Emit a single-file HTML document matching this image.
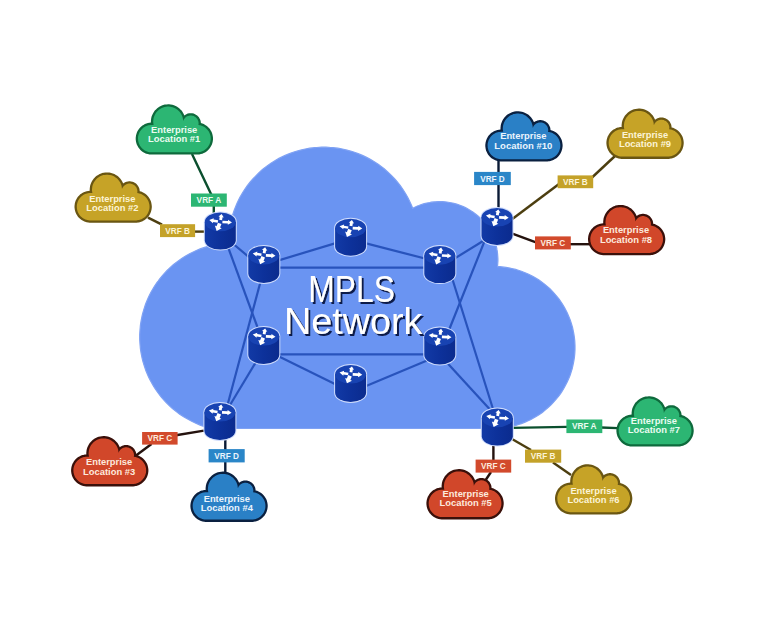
<!DOCTYPE html>
<html lang="en"><head><meta charset="utf-8"><title>MPLS Network</title>
<style>
html,body{margin:0;padding:0;background:#fff}
body{width:768px;height:630px;overflow:hidden}
svg{display:block}
text{font-family:"Liberation Sans",sans-serif}
.cl{font-weight:bold;font-size:9.3px;text-anchor:middle}
.vl{font-weight:bold;font-size:8.4px;text-anchor:middle}
.big{font-size:36.5px;fill:#fff;text-anchor:middle}
</style></head><body>
<svg width="768" height="630" viewBox="0 0 768 630">
<defs>
<linearGradient id="gb" x1="0" x2="1" y1="0" y2="0"><stop offset="0" stop-color="#123aa6"/><stop offset="0.5" stop-color="#0d319a"/><stop offset="1" stop-color="#0b2b8e"/></linearGradient>
<filter id="ds" x="-5%" y="-10%" width="112%" height="130%"><feGaussianBlur in="SourceAlpha" stdDeviation="0.6"/><feOffset dx="1.6" dy="1.5" result="o"/><feFlood flood-color="#0c1a4a"/><feComposite in2="o" operator="in"/><feMerge><feMergeNode/><feMergeNode in="SourceGraphic"/></feMerge></filter>
<filter id="soft" x="-5%" y="-5%" width="110%" height="110%"><feGaussianBlur stdDeviation="0.5"/></filter>

<path id="sco" d="M48.1,10.1 L47.3,8.6 L46.4,7.2 L45.9,6.5 L44.7,5.3 L43.5,4.1 L42.8,3.6 L41.4,2.7 L39.9,1.9 L38.3,1.2 L36.7,0.7 L35.0,0.4 L33.3,0.2 L32.5,0.2 L30.8,0.3 L29.1,0.5 L27.5,0.9 L26.7,1.2 L25.1,1.9 L23.6,2.7 L22.2,3.6 L21.5,4.1 L20.3,5.3 L19.1,6.5 L18.6,7.2 L17.7,8.6 L16.9,10.1 L16.2,11.7 L15.9,12.5 L15.5,14.1 L15.4,15.0 L15.2,16.7 L15.2,18.5 L13.7,18.7 L12.1,19.0 L11.4,19.2 L9.9,19.7 L9.2,20.0 L7.8,20.8 L7.1,21.2 L5.8,22.1 L5.3,22.6 L4.7,23.2 L3.6,24.3 L2.7,25.6 L1.9,27.0 L1.5,27.7 L1.2,28.4 L0.7,29.9 L0.3,31.4 L0.2,32.2 L0.0,33.7 L0.0,35.3 L0.1,36.1 L0.3,37.6 L0.5,38.4 L0.9,39.9 L1.2,40.6 L1.9,42.0 L2.7,43.4 L3.1,44.0 L4.1,45.2 L4.7,45.8 L5.8,46.9 L7.1,47.8 L8.5,48.6 L9.9,49.3 L10.6,49.6 L12.1,50.0 L13.7,50.3 L15.2,50.5 L62.1,50.5 L63.6,50.3 L64.4,50.2 L65.2,50.0 L66.7,49.6 L68.1,49.0 L68.8,48.6 L70.2,47.8 L70.8,47.4 L72.0,46.4 L73.2,45.2 L74.2,44.0 L75.0,42.7 L75.4,42.0 L76.1,40.6 L76.6,39.1 L77.0,37.6 L77.1,36.8 L77.3,35.3 L77.3,33.7 L77.1,32.2 L76.8,30.6 L76.4,29.1 L75.8,27.7 L75.0,26.3 L74.2,25.0 L73.2,23.8 L72.0,22.6 L70.8,21.6 L69.5,20.8 L68.1,20.0 L66.7,19.4 L65.2,19.0 L65.1,17.8 L64.8,16.3 L64.4,15.4 L63.7,14.1 L63.2,13.2 L62.2,12.1 L61.5,11.4 L60.2,10.6 L58.9,9.9 L58.0,9.5 L56.5,9.2 L55.5,9.1 L54.5,9.1 L53.5,9.2 L52.0,9.5 L51.1,9.9 L50.2,10.3 L49.3,10.8 L48.7,11.3Z"/>
<path id="sci" d="M47.4,16.0 L47.2,14.6 L47.1,13.9 L46.6,12.4 L46.1,11.1 L45.7,10.4 L45.0,9.2 L44.5,8.6 L44.1,8.0 L43.1,6.9 L42.0,5.9 L41.4,5.5 L40.2,4.6 L38.9,3.9 L38.2,3.6 L36.9,3.1 L35.4,2.8 L34.7,2.7 L33.2,2.5 L31.8,2.5 L30.3,2.7 L28.9,2.9 L28.1,3.1 L27.4,3.4 L26.1,3.9 L24.8,4.6 L24.2,5.0 L23.0,5.9 L21.9,6.9 L20.9,8.0 L20.0,9.2 L19.6,9.8 L19.3,10.4 L18.6,11.8 L18.4,12.4 L17.9,13.9 L17.7,15.3 L17.6,16.0 L17.5,17.5 L17.5,18.2 L17.7,19.7 L17.9,20.8 L15.3,20.8 L14.7,20.9 L13.3,21.1 L12.7,21.2 L11.4,21.6 L10.1,22.1 L9.5,22.4 L8.4,23.1 L7.8,23.5 L6.8,24.3 L6.3,24.8 L5.4,25.8 L5.0,26.3 L4.6,26.9 L3.9,28.0 L3.3,29.3 L3.1,29.9 L2.7,31.2 L2.4,32.5 L2.3,33.8 L2.3,34.5 L2.4,35.8 L2.4,36.5 L2.6,37.2 L2.9,38.5 L3.3,39.7 L3.9,41.0 L4.2,41.5 L5.0,42.7 L5.8,43.7 L6.3,44.2 L7.3,45.1 L7.8,45.5 L9.0,46.3 L9.5,46.6 L10.8,47.2 L12.0,47.6 L12.7,47.8 L14.0,48.1 L15.3,48.2 L62.0,48.2 L62.6,48.1 L64.0,47.9 L64.6,47.8 L65.9,47.4 L66.5,47.2 L67.8,46.6 L68.9,45.9 L69.5,45.5 L70.5,44.7 L71.5,43.7 L72.3,42.7 L73.1,41.5 L73.7,40.4 L74.2,39.1 L74.6,37.8 L74.9,36.5 L75.0,35.2 L75.0,33.8 L74.9,32.5 L74.6,31.2 L74.2,29.9 L73.7,28.6 L73.1,27.5 L72.3,26.3 L71.5,25.3 L70.5,24.3 L69.5,23.5 L68.3,22.7 L67.2,22.1 L65.9,21.6 L64.6,21.2 L64.0,21.1 L62.7,20.9 L62.9,19.7 L62.9,18.9 L62.8,18.1 L62.6,17.0 L62.3,16.3 L62.0,15.6 L61.6,14.9 L61.1,14.3 L60.3,13.4 L59.4,12.7 L58.7,12.3 L58.0,12.0 L57.3,11.7 L56.5,11.6 L55.8,11.4 L55.0,11.4 L54.2,11.4 L53.5,11.6 L52.3,11.9 L51.6,12.2 L50.9,12.5 L50.0,13.2 L49.4,13.7 L48.9,14.3 L48.2,15.2 L47.9,15.9 L47.5,16.9Z"/>

<g id="rt">
 <path d="M-16.5,0 A16.5,10.3 0 0 1 16.5,0 V18.4 A16.5,10.3 0 0 1 -16.5,18.4 Z" fill="#cfdcfc"/>
 <path d="M-15.5,0 V18.4 A15.5,9.3 0 0 0 15.5,18.4 V0 Z" fill="url(#gb)"/>
 <ellipse cx="0" cy="0" rx="15.5" ry="9.3" fill="#1843b2"/>
 <g fill="#fff">
  <polygon points="-2.16,-1.62 -6.70,-2.37 -6.50,-3.61 -11.05,-1.82 -7.31,1.33 -7.11,0.09 -2.57,0.84"/>
  <polygon points="2.04,1.44 7.53,1.68 7.48,2.93 11.69,0.51 7.71,-2.27 7.65,-1.02 2.16,-1.26"/>
  <polygon points="1.76,-1.73 2.25,-4.69 3.49,-4.49 1.32,-7.89 -1.84,-5.38 -0.61,-5.17 -1.10,-2.21"/>
  <polygon points="-2.36,0.77 -3.79,4.29 -5.45,3.62 -3.64,8.99 1.41,6.39 -0.26,5.72 1.16,2.20"/>
 </g>
</g>
</defs>
<rect width="768" height="630" fill="#fff"/>
<path d="M410.8,203.8 L408.8,199.6 L407.8,197.5 L405.5,193.5 L403.0,189.5 L400.3,185.7 L398.9,183.8 L395.9,180.2 L394.3,178.5 L391.1,175.1 L387.7,171.9 L384.2,168.8 L380.5,165.9 L378.6,164.6 L374.7,162.0 L370.7,159.6 L366.6,157.4 L362.4,155.4 L358.1,153.6 L353.7,152.0 L351.4,151.3 L346.9,150.1 L342.4,149.0 L337.8,148.2 L333.1,147.7 L330.8,147.5 L326.1,147.2 L321.5,147.2 L316.8,147.5 L314.5,147.7 L309.8,148.2 L305.2,149.0 L300.7,150.1 L296.2,151.3 L293.9,152.0 L289.5,153.6 L285.2,155.4 L283.1,156.3 L278.9,158.4 L274.9,160.7 L270.9,163.2 L267.1,165.9 L263.4,168.8 L261.6,170.3 L258.2,173.5 L254.9,176.8 L253.3,178.5 L250.2,182.0 L247.3,185.7 L244.6,189.5 L242.1,193.5 L239.8,197.5 L238.8,199.6 L236.8,203.8 L235.0,208.1 L234.2,210.3 L232.7,214.8 L232.0,217.0 L230.9,221.5 L230.0,226.1 L229.3,230.7 L229.1,233.1 L228.7,237.7 L228.6,240.1 L228.6,242.8 L224.8,243.1 L222.5,243.3 L220.2,243.6 L215.7,244.4 L213.4,244.9 L208.9,246.0 L204.5,247.4 L200.1,248.9 L198.0,249.8 L195.8,250.7 L191.7,252.7 L189.6,253.7 L185.6,256.0 L181.7,258.5 L177.9,261.2 L174.2,264.0 L172.4,265.5 L169.0,268.6 L167.3,270.2 L165.7,271.9 L162.6,275.3 L159.7,278.9 L158.3,280.8 L156.9,282.6 L154.3,286.5 L153.1,288.5 L150.8,292.5 L148.8,296.6 L147.8,298.7 L146.0,303.0 L145.2,305.2 L143.8,309.6 L142.5,314.1 L142.0,316.3 L141.1,320.9 L140.4,325.4 L140.2,327.7 L140.0,330.1 L139.7,334.7 L139.7,339.3 L140.0,343.9 L140.2,346.3 L140.4,348.6 L141.1,353.1 L142.0,357.7 L142.5,359.9 L143.1,362.2 L144.5,366.6 L146.0,371.0 L147.8,375.3 L148.8,377.4 L149.8,379.4 L152.0,383.5 L153.1,385.5 L155.6,389.4 L158.3,393.2 L161.1,396.9 L162.6,398.7 L165.7,402.1 L169.0,405.4 L172.4,408.5 L176.0,411.4 L179.7,414.2 L181.7,415.5 L183.6,416.8 L187.6,419.1 L191.7,421.3 L195.8,423.3 L200.1,425.1 L202.3,425.9 L206.7,427.3 L210.9,428.5 L494.0,428.5 L494.0,428.3 L498.1,428.2 L502.0,427.9 L506.0,427.4 L507.9,427.1 L511.8,426.3 L513.8,425.9 L515.7,425.4 L519.5,424.2 L521.4,423.6 L525.1,422.1 L528.7,420.5 L530.5,419.7 L532.2,418.7 L535.7,416.8 L539.0,414.7 L542.3,412.4 L545.4,409.9 L548.4,407.3 L551.3,404.6 L554.0,401.7 L556.6,398.7 L559.1,395.6 L561.4,392.3 L563.5,389.0 L565.4,385.5 L567.2,382.0 L568.8,378.4 L570.3,374.7 L571.5,370.9 L572.1,369.0 L573.0,365.1 L573.8,361.2 L574.4,357.3 L574.8,353.4 L575.0,349.4 L575.0,345.4 L574.8,341.4 L574.4,337.5 L573.8,333.6 L573.4,331.6 L572.6,327.7 L571.5,323.9 L570.3,320.1 L568.8,316.4 L567.2,312.8 L565.4,309.3 L564.5,307.5 L562.4,304.1 L561.4,302.5 L559.1,299.2 L556.6,296.1 L554.0,293.1 L552.7,291.6 L549.9,288.8 L546.9,286.1 L543.9,283.6 L542.3,282.4 L539.0,280.1 L537.4,279.1 L534.0,277.0 L532.2,276.1 L528.7,274.3 L525.1,272.7 L521.4,271.2 L517.6,270.0 L515.7,269.4 L511.8,268.5 L509.9,268.1 L506.0,267.4 L502.0,266.9 L500.1,266.7 L497.5,266.6 L497.7,264.1 L497.8,262.7 L497.9,261.2 L497.9,258.4 L497.7,255.5 L497.6,254.1 L497.3,251.3 L497.0,249.9 L496.8,248.4 L496.2,245.7 L495.8,244.3 L495.0,241.5 L494.0,238.9 L492.9,236.2 L492.3,234.9 L491.0,232.4 L490.3,231.1 L489.6,229.9 L488.1,227.5 L486.4,225.1 L485.6,224.0 L483.8,221.8 L482.8,220.7 L480.9,218.6 L478.8,216.7 L477.7,215.7 L475.5,213.9 L473.2,212.2 L472.0,211.4 L469.6,209.9 L468.4,209.2 L465.9,207.8 L463.3,206.6 L460.6,205.5 L458.0,204.5 L456.6,204.1 L453.8,203.3 L452.5,203.0 L449.6,202.5 L446.8,202.0 L445.4,201.9 L442.6,201.7 L441.1,201.6 L438.3,201.6 L435.4,201.8 L434.0,201.9 L431.2,202.2 L429.8,202.5 L426.9,203.0 L425.6,203.3 L424.2,203.7 L421.4,204.5 L418.8,205.5 L417.4,206.0 L414.8,207.2 L412.7,208.3 L411.8,206.0Z" fill="#6b94f2" stroke="#7fa2f4" stroke-width="1.2" filter="url(#soft)"/>
<path d="M192,154 L211.5,195 L213.8,205 L213.8,215" fill="none" stroke="#0b4f2e" stroke-width="2.4" stroke-linejoin="round"/>
<path d="M148,217.6 L162,224.6" fill="none" stroke="#4c3e10" stroke-width="2.4" stroke-linejoin="round"/>
<path d="M194,231.6 L206,231.6" fill="none" stroke="#4c3e10" stroke-width="2.4" stroke-linejoin="round"/>
<path d="M204,430.6 L176,435.2" fill="none" stroke="#24120e" stroke-width="2.4" stroke-linejoin="round"/>
<path d="M151.5,444 L136,455.5" fill="none" stroke="#24120e" stroke-width="2.4" stroke-linejoin="round"/>
<path d="M225.3,438 L225.3,473" fill="none" stroke="#0a1a36" stroke-width="2.4" stroke-linejoin="round"/>
<path d="M493.4,443 L493.4,461" fill="none" stroke="#24120e" stroke-width="2.4" stroke-linejoin="round"/>
<path d="M491,472 L485,481" fill="none" stroke="#24120e" stroke-width="2.4" stroke-linejoin="round"/>
<path d="M512,439 L531,450" fill="none" stroke="#4c3e10" stroke-width="2.4" stroke-linejoin="round"/>
<path d="M553,462.5 L571,475" fill="none" stroke="#4c3e10" stroke-width="2.4" stroke-linejoin="round"/>
<path d="M512,427.9 L567,426.9" fill="none" stroke="#0b4f2e" stroke-width="2.4" stroke-linejoin="round"/>
<path d="M601,427.5 L618,428.1" fill="none" stroke="#0b4f2e" stroke-width="2.4" stroke-linejoin="round"/>
<path d="M511,233.2 L536,242.3" fill="none" stroke="#24120e" stroke-width="2.4" stroke-linejoin="round"/>
<path d="M570,244.2 L590,244.2" fill="none" stroke="#24120e" stroke-width="2.4" stroke-linejoin="round"/>
<path d="M511,220 L559,184" fill="none" stroke="#4c3e10" stroke-width="2.4" stroke-linejoin="round"/>
<path d="M592,177.5 L615,156" fill="none" stroke="#4c3e10" stroke-width="2.4" stroke-linejoin="round"/>
<path d="M498.5,160 L498.5,210" fill="none" stroke="#0a1a36" stroke-width="2.4" stroke-linejoin="round"/>
<line x1="225" y1="237" x2="262" y2="268" stroke="#2853bc" stroke-width="2.2"/>
<line x1="223.6" y1="235" x2="264" y2="345" stroke="#2853bc" stroke-width="2.2"/>
<line x1="224" y1="415" x2="262" y2="352" stroke="#2853bc" stroke-width="2.2"/>
<line x1="223.5" y1="420" x2="265" y2="265" stroke="#2853bc" stroke-width="2.2"/>
<line x1="492" y1="235.5" x2="442" y2="266.3" stroke="#2853bc" stroke-width="2.2"/>
<line x1="491" y1="225" x2="443" y2="345" stroke="#2853bc" stroke-width="2.2"/>
<line x1="495" y1="415" x2="440" y2="355" stroke="#2853bc" stroke-width="2.2"/>
<line x1="498" y1="425" x2="448" y2="265" stroke="#2853bc" stroke-width="2.2"/>
<line x1="263.8" y1="264.9" x2="350.6" y2="238.6" stroke="#2853bc" stroke-width="2.2"/>
<line x1="350.6" y1="239.4" x2="439.6" y2="262.3" stroke="#2853bc" stroke-width="2.2"/>
<line x1="264" y1="267.7" x2="440" y2="267.7" stroke="#2853bc" stroke-width="2.2"/>
<line x1="263.8" y1="349.1" x2="350.6" y2="391.8" stroke="#2853bc" stroke-width="2.2"/>
<line x1="350.6" y1="392.5" x2="439.6" y2="355.2" stroke="#2853bc" stroke-width="2.2"/>
<line x1="264" y1="354.4" x2="440" y2="354.4" stroke="#2853bc" stroke-width="2.2"/>
<g transform="translate(135.7,104.1)"><use href="#sco" fill="#0e6a3c"/><use href="#sci" fill="#2cb673"/></g><text class="cl" fill="#eafcf1" x="174.2" y="133" textLength="46.2" lengthAdjust="spacingAndGlyphs">Enterprise</text><text class="cl" fill="#eafcf1" x="174.2" y="142" textLength="52.2" lengthAdjust="spacingAndGlyphs">Location #1</text>
<g transform="translate(74.5,172.2)"><use href="#sco" fill="#6a5612"/><use href="#sci" fill="#c6a327"/></g><text class="cl" fill="#fcf4d6" x="112.4" y="202" textLength="46.2" lengthAdjust="spacingAndGlyphs">Enterprise</text><text class="cl" fill="#fcf4d6" x="112.4" y="211" textLength="52.2" lengthAdjust="spacingAndGlyphs">Location #2</text>
<g transform="translate(71.1,435.9)"><use href="#sco" fill="#3a100a"/><use href="#sci" fill="#d1472a"/></g><text class="cl" fill="#fdeade" x="109.1" y="465" textLength="46.2" lengthAdjust="spacingAndGlyphs">Enterprise</text><text class="cl" fill="#fdeade" x="109.1" y="475" textLength="52.2" lengthAdjust="spacingAndGlyphs">Location #3</text>
<g transform="translate(190.4,471.4)"><use href="#sco" fill="#0a2040"/><use href="#sci" fill="#2a80c6"/></g><text class="cl" fill="#eaf4fd" x="226.8" y="502" textLength="46.2" lengthAdjust="spacingAndGlyphs">Enterprise</text><text class="cl" fill="#eaf4fd" x="226.8" y="511" textLength="52.2" lengthAdjust="spacingAndGlyphs">Location #4</text>
<g transform="translate(426.4,468.9)"><use href="#sco" fill="#3a100a"/><use href="#sci" fill="#d1472a"/></g><text class="cl" fill="#fdeade" x="465.7" y="497" textLength="46.2" lengthAdjust="spacingAndGlyphs">Enterprise</text><text class="cl" fill="#fdeade" x="465.7" y="506" textLength="52.2" lengthAdjust="spacingAndGlyphs">Location #5</text>
<g transform="translate(555.0,464.0)"><use href="#sco" fill="#6a5612"/><use href="#sci" fill="#c6a327"/></g><text class="cl" fill="#fcf4d6" x="593.5" y="494" textLength="46.2" lengthAdjust="spacingAndGlyphs">Enterprise</text><text class="cl" fill="#fcf4d6" x="593.5" y="503" textLength="52.2" lengthAdjust="spacingAndGlyphs">Location #6</text>
<g transform="translate(616.4,396.1)"><use href="#sco" fill="#0e6a3c"/><use href="#sci" fill="#2cb673"/></g><text class="cl" fill="#eafcf1" x="653.9" y="424" textLength="46.2" lengthAdjust="spacingAndGlyphs">Enterprise</text><text class="cl" fill="#eafcf1" x="653.9" y="433" textLength="52.2" lengthAdjust="spacingAndGlyphs">Location #7</text>
<g transform="translate(588.0,204.7)"><use href="#sco" fill="#3a100a"/><use href="#sci" fill="#d1472a"/></g><text class="cl" fill="#fdeade" x="626.0" y="233" textLength="46.2" lengthAdjust="spacingAndGlyphs">Enterprise</text><text class="cl" fill="#fdeade" x="626.0" y="243" textLength="52.2" lengthAdjust="spacingAndGlyphs">Location #8</text>
<g transform="translate(606.4,108.4)"><use href="#sco" fill="#6a5612"/><use href="#sci" fill="#c6a327"/></g><text class="cl" fill="#fcf4d6" x="645.0" y="138" textLength="46.2" lengthAdjust="spacingAndGlyphs">Enterprise</text><text class="cl" fill="#fcf4d6" x="645.0" y="147" textLength="52.2" lengthAdjust="spacingAndGlyphs">Location #9</text>
<g transform="translate(485.3,111.0)"><use href="#sco" fill="#0a2040"/><use href="#sci" fill="#2a80c6"/></g><text class="cl" fill="#eaf4fd" x="523.3" y="139" textLength="46.2" lengthAdjust="spacingAndGlyphs">Enterprise</text><text class="cl" fill="#eaf4fd" x="523.3" y="149" textLength="58" lengthAdjust="spacingAndGlyphs">Location #10</text>
<rect x="191.0" y="193.5" width="35.8" height="13.2" fill="#2cb673"/><text class="vl" fill="#eafcf1" x="208.9" y="203" textLength="24.6" lengthAdjust="spacingAndGlyphs">VRF A</text>
<rect x="160.0" y="224.2" width="35.1" height="12.9" fill="#c4a229"/><text class="vl" fill="#fcf4d6" x="177.6" y="234" textLength="24.6" lengthAdjust="spacingAndGlyphs">VRF B</text>
<rect x="142.1" y="432.0" width="35.5" height="12.6" fill="#d24a2c"/><text class="vl" fill="#fdeade" x="159.8" y="441" textLength="24.6" lengthAdjust="spacingAndGlyphs">VRF C</text>
<rect x="208.6" y="449.1" width="36.1" height="13.3" fill="#2a86c8"/><text class="vl" fill="#eaf4fd" x="226.6" y="459" textLength="24.6" lengthAdjust="spacingAndGlyphs">VRF D</text>
<rect x="475.6" y="459.6" width="35.6" height="13.0" fill="#d24a2c"/><text class="vl" fill="#fdeade" x="493.4" y="469" textLength="24.6" lengthAdjust="spacingAndGlyphs">VRF C</text>
<rect x="525.0" y="449.6" width="36.2" height="13.1" fill="#c4a229"/><text class="vl" fill="#fcf4d6" x="543.1" y="459" textLength="24.6" lengthAdjust="spacingAndGlyphs">VRF B</text>
<rect x="566.4" y="419.5" width="35.9" height="13.6" fill="#2cb673"/><text class="vl" fill="#eafcf1" x="584.3" y="429" textLength="24.6" lengthAdjust="spacingAndGlyphs">VRF A</text>
<rect x="535.0" y="236.4" width="35.8" height="13.0" fill="#d24a2c"/><text class="vl" fill="#fdeade" x="552.9" y="246" textLength="24.6" lengthAdjust="spacingAndGlyphs">VRF C</text>
<rect x="557.6" y="175.4" width="35.6" height="12.8" fill="#c4a229"/><text class="vl" fill="#fcf4d6" x="575.4" y="185" textLength="24.6" lengthAdjust="spacingAndGlyphs">VRF B</text>
<rect x="474.1" y="171.9" width="36.7" height="13.2" fill="#2a86c8"/><text class="vl" fill="#eaf4fd" x="492.5" y="182" textLength="24.6" lengthAdjust="spacingAndGlyphs">VRF D</text>
<use href="#rt" x="220.3" y="221.9"/>
<use href="#rt" x="497.0" y="217.3"/>
<use href="#rt" x="219.9" y="412.3"/>
<use href="#rt" x="497.3" y="417.90000000000003"/>
<use href="#rt" x="263.8" y="255.20000000000002"/>
<use href="#rt" x="350.6" y="228.0"/>
<use href="#rt" x="439.8" y="255.4"/>
<use href="#rt" x="263.8" y="336.3"/>
<use href="#rt" x="350.6" y="374.3"/>
<use href="#rt" x="439.8" y="336.7"/>
<g filter="url(#ds)"><text class="big" x="351.6" y="302.2" textLength="86.5" lengthAdjust="spacingAndGlyphs">MPLS</text><text class="big" x="353.2" y="334.2" textLength="138.5" lengthAdjust="spacingAndGlyphs">Network</text></g>
</svg></body></html>
